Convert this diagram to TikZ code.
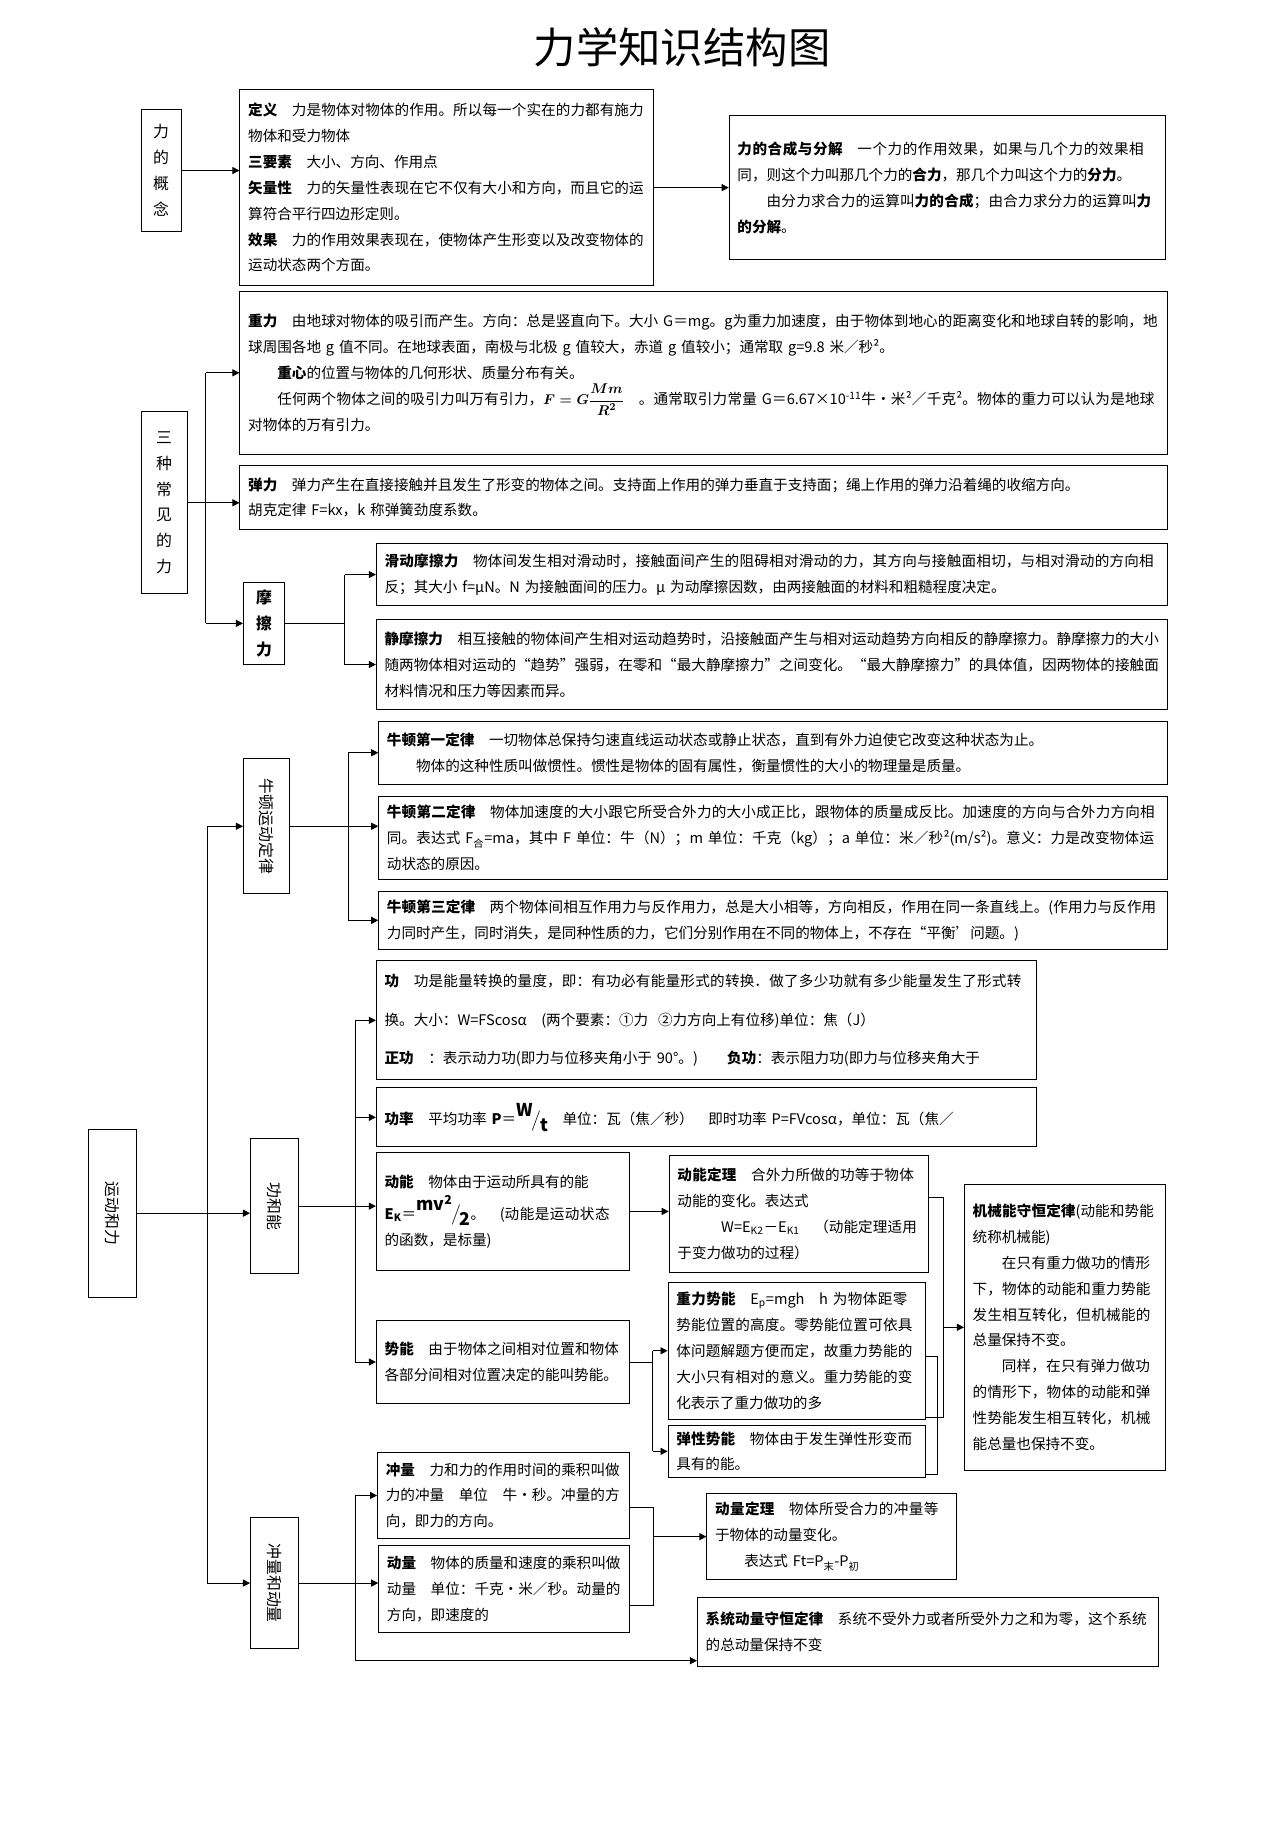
\documentclass[tikz,border=0pt]{standalone}
\usepackage{amsmath}
\usepackage[no-math]{fontspec}
\setmainfont{Noto Sans CJK SC}
\XeTeXlinebreaklocale "zh"
\XeTeXlinebreakskip=0pt plus 1pt
\usetikzlibrary{arrows.meta}
\newcommand{\bx}[6]{%
\pgfmathsetmacro\bw{#4-#2}\pgfmathsetmacro\bh{#5-#3}%
\pgfmathsetmacro\cx{(#2+#4)/2}\pgfmathsetmacro\cy{(#3+#5)/2}%
\pgfmathsetmacro\tw{#4-#2-14}%
\node[box,minimum width=\bw pt,minimum height=\bh pt,text width=\tw pt] (#1) at (\cx,\cy) {#6};}
\newcommand{\vb}[6]{%
\pgfmathsetmacro\bw{#4-#2}\pgfmathsetmacro\bh{#5-#3}%
\pgfmathsetmacro\cx{(#2+#4)/2}\pgfmathsetmacro\cy{(#3+#5)/2}%
\node[vbox,minimum width=\bw pt,minimum height=\bh pt] (#1) at (\cx,\cy) {#6};}
\newcommand{\slfrac}[2]{{\fontsize{15}{15}\selectfont\raisebox{0.9ex}{\textbf{\textit{#1}}}\kern-1pt\big/\kern-1pt\raisebox{-0.7ex}{\textbf{\textit{#2}}}}}
\begin{document}
\begin{tikzpicture}[x=1pt,y=-1pt,
 box/.style={draw,line width=0.8pt,inner sep=5pt,align=left,font=\fontsize{12.4}{22}\selectfont},
 vbox/.style={draw,line width=0.8pt,inner sep=2pt,align=center,font=\fontsize{13.5}{22}\selectfont},
 arr/.style={-{Triangle[length=6pt,width=6pt]},line width=0.8pt},
 ln/.style={line width=0.8pt}]
\useasboundingbox (0,0) rectangle (1085,1567);
\node (title) at (580,40) {\fontsize{36}{40}\selectfont 力学知识结构图};
% concept
\vb{glgn}{120}{93}{154}{197}{力\\的\\概\\念}
\bx{def}{204}{76}{556}{243}{\textbf{定义}\quad 力是物体对物体的作用。所以每一个实在的力都有施力物体和受力物体\\\textbf{三要素}\quad 大小、方向、作用点\\\textbf{矢量性}\quad 力的矢量性表现在它不仅有大小和方向，而且它的运算符合平行四边形定则。\\\textbf{效果}\quad 力的作用效果表现在，使物体产生形变以及改变物体的运动状态两个方面。}
\bx{hc}{620}{98}{991}{221}{\textbf{力的合成与分解}\quad 一个力的作用效果，如果与几个力的效果相同，则这个力叫那几个力的\textbf{合力}，那几个力叫这个力的\textbf{分力}。\\\hspace*{2em}由分力求合力的运算叫\textbf{力的合成}；由合力求分力的运算叫\textbf{力的分解}。}
% three forces
\vb{sz}{120}{350}{159}{505}{三\\种\\常\\见\\的\\力}
\bx{zl}{204}{248}{993}{386}{\textbf{重力}\quad 由地球对物体的吸引而产生。方向：总是竖直向下。大小 G＝mg。g为重力加速度，由于物体到地心的距离变化和地球自转的影响，地球周围各地 g 值不同。在地球表面，南极与北极 g 值较大，赤道 g 值较小；通常取 g=9.8 米／秒²。\\\hspace*{2em}\textbf{重心}的位置与物体的几何形状、质量分布有关。\\\hspace*{2em}任何两个物体之间的吸引力叫万有引力，$\boldsymbol{F=G\dfrac{Mm}{R^2}}$\quad。通常取引力常量 G＝6.67×10\textsuperscript{-11}牛·米²／千克²。物体的重力可以认为是地球对物体的万有引力。}
\bx{tl}{204}{396}{993}{450}{\textbf{弹力}\quad 弹力产生在直接接触并且发生了形变的物体之间。支持面上作用的弹力垂直于支持面；绳上作用的弹力沿着绳的收缩方向。\\胡克定律 F=kx，k 称弹簧劲度系数。}
\vb{mc}{207}{495}{242}{565}{\textbf{摩}\\\textbf{擦}\\\textbf{力}}
\bx{hd}{320}{462}{993}{515}{\textbf{滑动摩擦力}\quad 物体间发生相对滑动时，接触面间产生的阻碍相对滑动的力，其方向与接触面相切，与相对滑动的方向相反；其大小 f=μN。N 为接触面间的压力。μ 为动摩擦因数，由两接触面的材料和粗糙程度决定。}
\bx{jm}{320}{527}{993}{603}{\textbf{静摩擦力}\quad 相互接触的物体间产生相对运动趋势时，沿接触面产生与相对运动趋势方向相反的静摩擦力。静摩擦力的大小随两物体相对运动的“趋势”强弱，在零和“最大静摩擦力”之间变化。“最大静摩擦力”的具体值，因两物体的接触面材料情况和压力等因素而异。}
% Newton
\vb{nd}{207}{645}{246}{760}{\rotatebox{-90}{牛顿运动定律}}
\bx{n1}{322}{613}{993}{667}{\textbf{牛顿第一定律}\quad 一切物体总保持匀速直线运动状态或静止状态，直到有外力迫使它改变这种状态为止。\\\hspace*{2em}物体的这种性质叫做惯性。惯性是物体的固有属性，衡量惯性的大小的物理量是质量。}
\bx{n2}{322}{677}{993}{748}{\textbf{牛顿第二定律}\quad 物体加速度的大小跟它所受合外力的大小成正比，跟物体的质量成反比。加速度的方向与合外力方向相同。表达式 F\textsubscript{合}=ma，其中 F 单位：牛（N）；m 单位：千克（kg）；a 单位：米／秒²(m/s²)。意义：力是改变物体运动状态的原因。}
\bx{n3}{322}{758}{993}{807}{\textbf{牛顿第三定律}\quad 两个物体间相互作用力与反作用力，总是大小相等，方向相反，作用在同一条直线上。(作用力与反作用力同时产生，同时消失，是同种性质的力，它们分别作用在不同的物体上，不存在“平衡’问题。)}
% motion and force
\vb{yd}{75}{960}{116}{1103}{\rotatebox{-90}{运动和力}}
\vb{gn}{213}{968}{254}{1083}{\rotatebox{-90}{功和能}}
\vb{cl}{213}{1290}{254}{1402}{\rotatebox{-90}{冲量和动量}}
\node[box,font=\fontsize{12.4}{33}\selectfont,minimum width=561pt,minimum height=101pt,text width=547pt] (gong) at (600.5,867.5) {\textbf{功}\quad 功是能量转换的量度，即：有功必有能量形式的转换．做了多少功就有多少能量发生了形式转换。大小：W=FScosα\quad (两个要素：①力\ \ ②力方向上有位移)单位：焦（J）\\\textbf{正功}\quad：表示动力功(即力与位移夹角小于 90°。)\qquad\textbf{负功}：表示阻力功(即力与位移夹角大于};
\bx{gl}{320}{925}{881}{975}{\textbf{功率}\quad 平均功率 \textbf{\textit{P}}＝\slfrac{W}{t}\quad 单位：瓦（焦／秒）\quad 即时功率 P=FVcosα，单位：瓦（焦／}
\bx{dn}{320}{980}{535}{1080}{\textbf{动能}\quad 物体由于运动所具有的能\\[5pt]\textbf{\textit{E}\textsubscript{\textit{K}}}＝\slfrac{mv\textsuperscript{2}}{2}。\quad (动能是运动状态的函数，是标量)}
\bx{dd}{569}{982}{789}{1082}{\textbf{动能定理}\quad 合外力所做的功等于物体动能的变化。表达式\\\hspace*{3em}W=E\textsubscript{K2}－E\textsubscript{K1}\quad（动能定理适用于变力做功的过程）}
\bx{sn}{320}{1123}{535}{1193}{\textbf{势能}\quad 由于物体之间相对位置和物体各部分间相对位置决定的能叫势能。}
\bx{zs}{568}{1090}{787}{1207}{\textbf{重力势能}\quad E\textsubscript{p}=mgh\quad h 为物体距零势能位置的高度。零势能位置可依具体问题解题方便而定，故重力势能的大小只有相对的意义。重力势能的变化表示了重力做功的多}
\bx{ts}{568}{1212}{787}{1256}{\textbf{弹性势能}\quad 物体由于发生弹性形变而具有的能。}
\bx{jx}{820}{1007}{991}{1250}{\textbf{机械能守恒定律}(动能和势能统称机械能)\\\hspace*{2em}在只有重力做功的情形下，物体的动能和重力势能发生相互转化，但机械能的总量保持不变。\\\hspace*{2em}同样，在只有弹力做功的情形下，物体的动能和弹性势能发生相互转化，机械能总量也保持不变。}
\bx{cq}{321}{1235}{535}{1308}{\textbf{冲量}\quad 力和力的作用时间的乘积叫做力的冲量\quad 单位\quad 牛·秒。冲量的方向，即力的方向。}
\bx{dl}{322}{1314}{535}{1388}{\textbf{动量}\quad 物体的质量和速度的乘积叫做动量\quad 单位：千克·米／秒。动量的方向，即速度的}
\bx{dt}{601}{1270}{813}{1343}{\textbf{动量定理}\quad 物体所受合力的冲量等于物体的动量变化。\\\hspace*{2em}表达式 Ft=P\textsubscript{末}-P\textsubscript{初}}
\bx{xt}{593}{1358}{985}{1417}{\textbf{系统动量守恒定律}\quad 系统不受外力或者所受外力之和为零，这个系统的总动量保持不变}
% connectors
\coordinate (j1) at (175,0); \coordinate (j2) at (293,0); \coordinate (j3) at (296,0);
\coordinate (j4) at (176,0); \coordinate (j5) at (302,0); \coordinate (j6) at (555,0);
\draw[arr] (glgn.east) -- (glgn.east -| def.west);
\draw[arr] (def.east) -- (def.east -| hc.west);
\draw[arr] (sz.east) -- (sz.east -| tl.west);
\draw[ln] (j1 |- zl.west) -- (j1 |- mc.west);
\draw[arr] (j1 |- zl.west) -- (zl.west);
\draw[arr] (j1 |- mc.west) -- (mc.west);
\draw[ln] (mc.east) -- (mc.east -| j2);
\draw[ln] (j2 |- hd.west) -- (j2 |- jm.west);
\draw[arr] (j2 |- hd.west) -- (hd.west);
\draw[arr] (j2 |- jm.west) -- (jm.west);
\draw[arr] (nd.east) -- (nd.east -| n2.west);
\draw[ln] (j3 |- n1.west) -- (j3 |- n3.west);
\draw[arr] (j3 |- n1.west) -- (n1.west);
\draw[arr] (j3 |- n3.west) -- (n3.west);
\draw[arr] (yd.east) -- (yd.east -| gn.west);
\draw[ln] (j4 |- nd.west) -- (j4 |- cl.west);
\draw[arr] (j4 |- nd.west) -- (nd.west);
\draw[arr] (j4 |- cl.west) -- (cl.west);
\draw[arr] (gn.east) -- (gn.east -| dn.west);
\draw[ln] (j5 |- gong.west) -- (j5 |- sn.west);
\draw[arr] (j5 |- gong.west) -- (gong.west);
\draw[arr] (j5 |- gl.west) -- (gl.west);
\draw[arr] (j5 |- sn.west) -- (sn.west);
\draw[arr] (dn.east) -- (dn.east -| dd.west);
\draw[ln] (sn.east) -- (sn.east -| j6);
\draw[ln] (j6 |- zs.west) -- (j6 |- ts.west);
\draw[arr] (j6 |- zs.west) -- (zs.west);
\draw[arr] (j6 |- ts.west) -- (ts.west);
\coordinate (b1) at (802,1018); \coordinate (b2) at (802,1205);
\draw[ln] (b1 -| dd.east) -- (b1) -- (b2) -- (b2 -| zs.east);
\coordinate (b3) at (797,1153); \coordinate (b4) at (797,1254);
\draw[ln] (b3 -| zs.east) -- (b3) -- (b4) -- (b4 -| ts.east);
\draw[arr] (jx.west -| b1) -- (jx.west);
\coordinate (xb) at (302,1412);
\draw[arr] (cl.east) -- (cl.east -| dl.west);
\draw[ln] (j5 |- cq.west) -- (xb);
\draw[arr] (j5 |- cq.west) -- (cq.west);
\draw[arr] (xb) -- (xb -| xt.west);
\coordinate (c1) at (556,1282); \coordinate (c2) at (556,1365);
\draw[ln] (c1 -| cq.east) -- (c1) -- (c2) -- (c2 -| dl.east);
\draw[arr] (dt.west -| c1) -- (dt.west);
\end{tikzpicture}
\end{document}
